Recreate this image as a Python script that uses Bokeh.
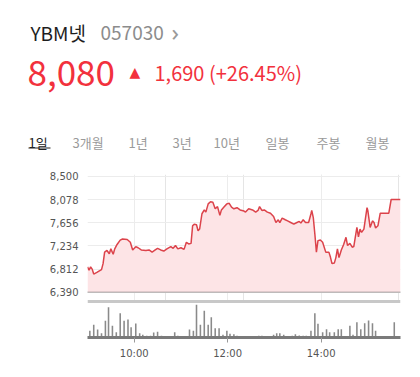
from bokeh.plotting import figure
from bokeh.layouts import column
from bokeh.models import Range1d, FixedTicker, NumeralTickFormatter, Grid, Span
from bokeh.core.properties import value
from bokeh.embed import file_html
from bokeh.resources import INLINE

# ---------------- data ----------------
NAME = "YBM넷"
CODE = "057030"
LAST = "8,080"
CHANGE = "1,690 (+26.45%)"
TABS = ["1일", "3개월", "1년", "3년", "10년", "일봉", "주봉", "월봉"]

PREV_CLOSE = 6390
PRICE_TICKS = [6390, 6812, 7234, 7656, 8078, 8500]
TIME_TICKS = [60, 180, 300]            # minutes after 09:00
TIME_LABELS = ["10:00", "12:00", "14:00"]

PRICE_TIME = [0, 2, 4, 6, 8, 12, 18, 20, 22, 25, 28, 30, 33, 35, 38, 42, 45, 51, 55, 58,
              62, 65, 69, 75, 79, 83, 87, 90, 94, 98, 102, 107, 110, 113, 116, 120, 124, 127,
              130, 133, 135, 137, 140, 142, 144, 147, 150, 152, 155, 158, 161, 164, 167, 170,
              172, 175, 179, 182, 185, 188, 192, 196, 201, 203, 207, 212, 216, 219, 221, 224,
              227, 231, 235, 239, 242, 245, 247, 250, 254, 257, 261, 265, 269, 272, 274, 277,
              280, 284, 287, 288, 290, 292, 294, 296, 299, 302, 306, 310, 312, 314, 317, 319,
              321, 323, 326, 329, 332, 334, 337, 340, 342, 346, 348, 350, 352, 355, 359, 360,
              363, 366, 368, 370, 373, 376, 387, 390, 402]
PRICE = [6850, 6790, 6850, 6810, 6720, 6750, 6800, 6910, 7120, 7150, 7090, 7180, 7080, 7180,
         7260, 7340, 7360, 7350, 7300, 7160, 7220, 7200, 7160, 7150, 7160, 7120, 7160, 7190,
         7160, 7140, 7180, 7220, 7190, 7240, 7180, 7200, 7170, 7300, 7270, 7280, 7600, 7630,
         7620, 7510, 7540, 7820, 7890, 7850, 8000, 8040, 8030, 7910, 7950, 7790, 7890, 7940,
         8000, 8010, 7940, 7910, 7930, 7890, 7870, 7850, 7910, 7890, 7850, 7880, 7950, 7880,
         7890, 7850, 7830, 7770, 7660, 7710, 7660, 7740, 7710, 7690, 7660, 7630, 7660, 7680,
         7650, 7710, 7660, 7660, 7820, 7880, 7750, 7450, 7120, 7330, 7340, 7300, 7120, 7120,
         7030, 6910, 6920, 7020, 7180, 7020, 7160, 7260, 7390, 7240, 7280, 7210, 7220, 7570,
         7400, 7540, 7480, 7540, 7930, 7880, 7570, 7690, 7660, 7560, 7600, 7830, 7830, 8080,
         8080]

VOL_TIME = [3, 8, 13, 18, 23, 27, 32, 37, 42, 47, 52, 56, 62, 67, 71, 76, 81, 85, 90, 95,
            112, 116, 131, 136, 140, 145, 150, 155, 159, 164, 169, 174, 179, 183, 188, 192,
            197, 202, 220, 224, 239, 243, 247, 252, 263, 267, 272, 277, 281, 287, 292, 296,
            302, 307, 311, 317, 322, 326, 337, 341, 346, 351, 356, 361, 366, 370, 394]
VOLUME = [6700, 12700, 8000, 4300, 16700, 30300, 11700, 5300, 24300, 16700, 18000, 10300,
          14000, 4300, 2700, 1700, 1700, 5000, 5700, 1700, 5300, 1700, 8000, 6700, 32700,
          12700, 26700, 12700, 20300, 9300, 9300, 2700, 6700, 3700, 3300, 1700, 1000, 1000,
          1700, 1700, 2700, 4300, 4300, 2700, 1700, 3300, 2000, 1700, 1700, 6700, 24300,
          13700, 5300, 8300, 5300, 5300, 8300, 8300, 11700, 2700, 15300, 8300, 14300, 17000,
          14300, 6700, 15300]

# ---------------- styles / layout ----------------
RED = "#f2313d"
LINE_RED = "#dc434b"
FILL_PINK = "#fde4e6"
GRID = "#ececec"
KR = value("Noto Sans CJK KR")
AX_FONT = "DejaVu Sans"
TAB_X = [28, 72, 128, 172, 213, 265, 316, 365]

# ---------------- header ----------------
h = figure(width=420, height=160, x_range=Range1d(0, 420), y_range=Range1d(160, 0),
           x_axis_location=None, y_axis_location=None, toolbar_location=None,
           output_backend="svg", min_border=0)
h.frame_align = False
h.outline_line_color = None
h.xgrid.visible = False
h.ygrid.visible = False

h.text(x=[30], y=[32], text=[NAME], text_font=KR, text_font_size=value("19px"),
       text_color="#1e1e1e", text_baseline="alphabetic")
h.text(x=[100], y=[32], text=[CODE], text_font=KR, text_font_size=value("19px"),
       text_color="#8c8c8c", text_baseline="alphabetic")
h.text(x=[171], y=[31], text=["›"], text_font=value("Noto Sans"), text_font_size=value("24px"),
       text_color="#9a9a9a", text_baseline="alphabetic")
h.text(x=[27], y=[72], text=[LAST], text_font=KR, text_font_size=value("35px"),
       text_color=RED, text_baseline="alphabetic")
h.text(x=[129], y=[71], text=["▲"], text_font=value("DejaVu Sans"), text_font_size=value("14px"),
       text_color=RED, text_baseline="alphabetic")
h.text(x=[154], y=[72], text=[CHANGE], text_font=KR, text_font_size=value("20px"),
       text_color=RED, text_baseline="alphabetic")

tab_colors = ["#222222"] + ["#9a9a9a"] * (len(TABS) - 1)
h.text(x=TAB_X, y=[142] * len(TABS), text=TABS, text_font=KR, text_font_size=value("13px"),
       text_color=tab_colors, text_baseline="alphabetic")
h.segment(x0=[28], y0=[147.5], x1=[50], y1=[147.5], line_color="#222222", line_width=1.2)

# ---------------- price chart ----------------
x_range = Range1d(0, 402)
p = figure(width=420, height=143, x_range=x_range, y_range=Range1d(6183, 8536),
           x_axis_location=None, toolbar_location=None, output_backend="svg",
           min_border_left=87, min_border_right=20, min_border_top=14, min_border_bottom=0)
p.outline_line_color = None
p.ygrid.ticker = FixedTicker(ticks=PRICE_TICKS)
p.ygrid.grid_line_color = GRID
p.add_layout(Grid(dimension=0, ticker=FixedTicker(ticks=TIME_TICKS), grid_line_color=GRID))

ax = p.yaxis[0]
ax.ticker = FixedTicker(ticks=PRICE_TICKS)
ax.formatter = NumeralTickFormatter(format="0,0")
ax.axis_line_color = None
ax.major_tick_line_color = None
ax.minor_tick_line_color = None
ax.major_label_text_font = AX_FONT
ax.major_label_text_font_size = "10px"
ax.major_label_text_color = "#555555"
ax.major_label_standoff = 3

p.varea(x=PRICE_TIME, y1=[PREV_CLOSE] * len(PRICE), y2=PRICE, fill_color=FILL_PINK)
p.line(PRICE_TIME, PRICE, line_color=LINE_RED, line_width=1.5)
p.add_layout(Span(location=PREV_CLOSE, dimension="width", line_color="#555555",
                  line_width=1, line_dash="1 1"))
p.add_layout(Span(location=6220, dimension="width", line_color="#c8c8c8", line_width=3))

# ---------------- volume chart ----------------
v = figure(width=420, height=74, x_range=x_range, y_range=Range1d(0, 34000),
           y_axis_location=None, toolbar_location=None, output_backend="svg",
           min_border_left=87, min_border_right=20, min_border_top=0, min_border_bottom=40)
v.outline_line_color = None
v.xgrid.visible = False
v.ygrid.visible = False
v.vbar(x=VOL_TIME, top=VOLUME, width=2.0, fill_color="#8a8a8a", line_color=None)

xa = v.xaxis[0]
xa.ticker = FixedTicker(ticks=TIME_TICKS)
xa.major_label_overrides = {t: l for t, l in zip(TIME_TICKS, TIME_LABELS)}
xa.axis_line_color = "#7a7a7a"
xa.axis_line_width = 3
xa.major_tick_line_color = "#999999"
xa.major_tick_out = 5
xa.major_tick_in = 0
xa.minor_tick_line_color = None
xa.major_label_text_font = AX_FONT
xa.major_label_text_font_size = "10px"
xa.major_label_text_color = "#555555"
xa.major_label_standoff = 5

layout = column(h, p, v, spacing=0)
open("out.html", "w").write(file_html(layout, INLINE))
